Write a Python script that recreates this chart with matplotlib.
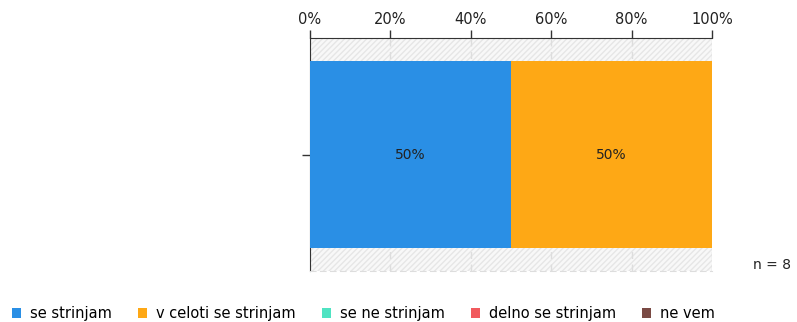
import matplotlib.pyplot as plt
from matplotlib.patches import Rectangle, Patch

# Data
categories = ["se strinjam", "v celoti se strinjam", "se ne strinjam", "delno se strinjam", "ne vem"]
values = [50, 50, 0, 0, 0]
colors = ["#2A8FE5", "#FEA815", "#4FE3C2", "#F15A5E", "#7A4A44"]
tick_values = [0, 20, 40, 60, 80, 100]
tick_labels = ["0%", "20%", "40%", "60%", "80%", "100%"]
n_label = "n = 8"

fig = plt.figure(figsize=(7.97, 3.22), dpi=100)
ax = fig.add_axes([0.389, 0.158, 0.5044, 0.724])

# hatched background
ax.set_facecolor("#f8f8f8")
bg = Rectangle((0, 0), 1, 1, transform=ax.transAxes, facecolor="none",
               edgecolor="#e6e6e6", hatch="//////", linewidth=0, zorder=0)
ax.add_patch(bg)

# stacked bar
left = 0
for cat, val, col in zip(categories, values, colors):
    ax.barh(0, val, left=left, height=0.8, color=col, zorder=3)
    if val > 0:
        ax.text(left + val / 2, 0, f"{val}%", ha="center", va="center",
                fontsize=10, color="#222222", zorder=4)
    left += val

ax.set_xlim(0, 100)
ax.set_ylim(-0.5, 0.5)
ax.invert_yaxis()

# axis styling
ax.xaxis.tick_top()
ax.set_xticks(tick_values)
ax.set_xticklabels(tick_labels, fontsize=10.5, color="#222222")
ax.tick_params(axis="x", length=6, width=1, pad=2, color="#333333")
ax.set_yticks([0])
ax.set_yticklabels([""])
ax.tick_params(axis="y", length=6, width=1, color="#333333")
ax.grid(axis="x", linestyle=(0, (5, 4)), color="#dddddd", linewidth=1, zorder=1)

ax.spines["right"].set_visible(False)
ax.spines["bottom"].set_color("#dddddd")
ax.spines["bottom"].set_linestyle((0, (5, 4)))
ax.spines["top"].set_color("#333333")
ax.spines["left"].set_color("#333333")

fig.text(0.969, 0.178, n_label, ha="center", va="center", fontsize=10, color="#222222")

# legend at the bottom
handles = [Patch(facecolor=c, edgecolor="none") for c in colors]
fig.legend(handles, categories, loc="center left", bbox_to_anchor=(12 / 797, 8.5 / 322), ncol=5,
           frameon=False, fontsize=10.5, handlelength=0.62, handleheight=0.62,
           handletextpad=0.62, columnspacing=1.78, borderpad=0, borderaxespad=0)

fig.savefig("out.png", dpi=100)
